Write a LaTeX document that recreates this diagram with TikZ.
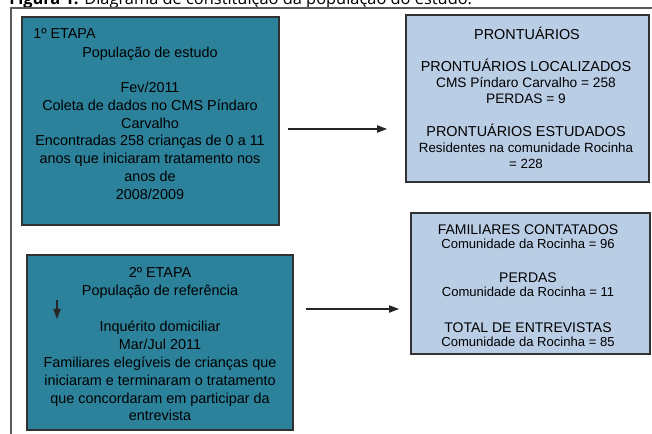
\documentclass[tikz,border=0pt]{standalone}
\usepackage{fontspec}
\setmainfont{Liberation Sans}
\newfontfamily\capfont{Open Sans}
\usetikzlibrary{arrows.meta}
\definecolor{tealbg}{RGB}{44,130,155}
\definecolor{lightbg}{RGB}{185,205,229}
\definecolor{edge}{RGB}{50,50,50}
\definecolor{framegray}{RGB}{90,90,90}
\tikzset{
  boxbase/.style={rectangle, draw=edge, line width=1pt, inner sep=0pt, outer sep=0pt},
  tealbox/.style={boxbase, fill=tealbg},
  lightbox/.style={boxbase, fill=lightbg},
  txt/.style={inner sep=0pt, align=center, text=black},
  bigtxt/.style={txt, font=\fontsize{10.8}{13.3}\selectfont},
  arr/.style={-{Triangle[length=7.5pt,width=5.5pt]}, line width=0.9pt, draw=black!85},
}
\begin{document}
\begin{tikzpicture}[x=0.75pt,y=0.75pt]
\useasboundingbox (0,0) rectangle (652,434);
\clip (0,0) rectangle (652,434);
% caption (cut at top, as in the reference)
\node[anchor=base west, inner sep=0pt, font=\capfont\fontsize{12.3}{14}\selectfont] (cap) at (9,429.5) {\textbf{Figura 1.} Diagrama de constituição da população do estudo.};
% frame
\draw[framegray, line width=0.8pt] (652,426) -- (11,426) -- (11,0);
% boxes
\node[tealbox, minimum width=192.75pt, minimum height=156pt] (box1) at (150.5,313) {};
\node[tealbox, minimum width=199.5pt, minimum height=131.25pt] (box2) at (160,91.5) {};
\node[lightbox, minimum width=182.25pt, minimum height=125.25pt] (box3) at (527.5,335.5) {};
\node[lightbox, minimum width=179.25pt, minimum height=105.75pt] (box4) at (530.5,150.5) {};
% box 1 text
\node[bigtxt, anchor=west] (e1) at (33,401) {1º ETAPA};
\node[bigtxt] (t1) at (150,311) {População de estudo\\ \mbox{}\\ Fev/2011\\ Coleta de dados no CMS Píndaro\\ Carvalho\\ Encontradas 258 crianças de 0 a 11\\ anos que iniciaram tratamento nos\\ anos de\\ 2008/2009};
% box 2 text
\node[txt, font=\fontsize{10.8}{13.4}\selectfont] (t2) at (160,89.5) {2º ETAPA\\ População de referência\\ \mbox{}\\ Inquérito domiciliar\\ Mar/Jul 2011\\ Familiares elegíveis de crianças que\\ iniciaram e terminaram o tratamento\\ que concordaram em participar da\\ entrevista};
% box 3 text
\node[bigtxt] (t3a) at (527,401) {PRONTUÁRIOS};
\node[txt, font=\fontsize{10.3}{12}\selectfont] (t3b) at (526,353) {{\fontsize{10.8}{12}\selectfont PRONTUÁRIOS LOCALIZADOS}\\ CMS Píndaro Carvalho = 258\\ PERDAS = 9};
\node[txt, font=\fontsize{10}{12}\selectfont] (t3c) at (526,287.5) {{\fontsize{10.8}{12}\selectfont PRONTUÁRIOS ESTUDADOS}\\ Residentes na comunidade Rocinha\\ = 228};
% box 4 text
\node[txt, font=\fontsize{9.8}{10.5}\selectfont] (t4a) at (528,197) {{\fontsize{10.5}{10.5}\selectfont FAMILIARES CONTATADOS}\\ Comunidade da Rocinha = 96};
\node[txt, font=\fontsize{9.8}{10.5}\selectfont] (t4b) at (528,149) {{\fontsize{10.5}{10.5}\selectfont PERDAS}\\ Comunidade da Rocinha = 11};
\node[txt, font=\fontsize{9.8}{10.5}\selectfont] (t4c) at (528,99) {{\fontsize{10.5}{10.5}\selectfont TOTAL DE ENTREVISTAS}\\ Comunidade da Rocinha = 85};
% connectors
\coordinate (ya) at (0,305);
\coordinate (yb) at (0,125);
\draw[arr, shorten <=6.75pt, shorten >=14.25pt] (box1.east |- ya) -- (box3.west |- ya);
\draw[arr, shorten <=9.75pt, shorten >=9pt] (box2.east |- yb) -- (box4.west |- yb);
% down arrow inside box 2
\coordinate (d1) at (57,134);
\coordinate (d2) at (57,115);
\draw[arr] (d1) -- (d2);
\end{tikzpicture}
\end{document}
